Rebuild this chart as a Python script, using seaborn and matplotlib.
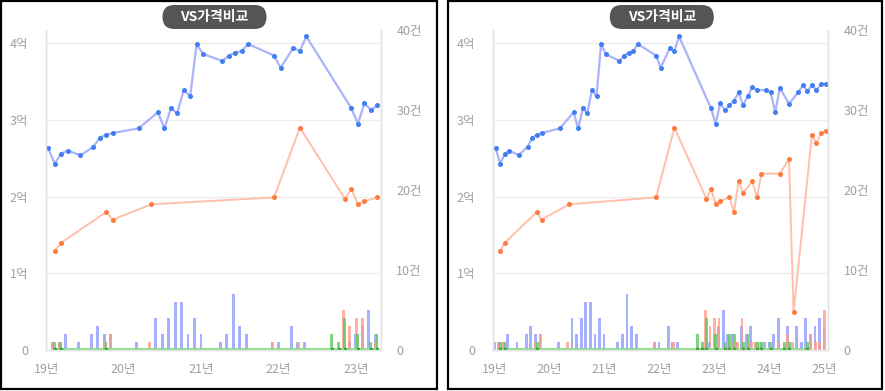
import numpy as np
import pandas as pd
import matplotlib
matplotlib.use("Agg")
import matplotlib.pyplot as plt
import seaborn as sns
from matplotlib.patches import FancyBboxPatch, Rectangle
from matplotlib.transforms import IdentityTransform

sns.set_theme(style="white")
plt.rcParams['font.family'] = ['Noto Sans CJK KR', 'DejaVu Sans']

# ---------------- data ----------------
sale_months = ['2019-01', '2019-02', '2019-03', '2019-04', '2019-06', '2019-08', '2019-09', '2019-10', '2019-11',
               '2020-03', '2020-06', '2020-07', '2020-08', '2020-09', '2020-10', '2020-11', '2020-12',
               '2021-01', '2021-04', '2021-05', '2021-06', '2021-07', '2021-08', '2021-12',
               '2022-01', '2022-03', '2022-04', '2022-05', '2022-12',
               '2023-01', '2023-02', '2023-03', '2023-04', '2023-05', '2023-06', '2023-07', '2023-08', '2023-09',
               '2023-10', '2023-12',
               '2024-01', '2024-02', '2024-03', '2024-05', '2024-07', '2024-08', '2024-09', '2024-10', '2024-11',
               '2024-12', '2025-01']
sale_price = [2.63, 2.43, 2.56, 2.60, 2.54, 2.65, 2.77, 2.81, 2.83,
              2.89, 3.10, 2.89, 3.15, 3.09, 3.39, 3.31, 3.99,
              3.86, 3.77, 3.84, 3.88, 3.90, 3.99, 3.84,
              3.68, 3.94, 3.90, 4.09, 3.15,
              2.95, 3.22, 3.13, 3.19, 3.25, 3.36, 3.19, 3.31, 3.43,
              3.39, 3.39,
              3.36, 3.10, 3.42, 3.21, 3.36, 3.45, 3.38, 3.45, 3.39,
              3.47, 3.47]
sale_count = [1, 1, 1, 2, 1, 2, 3, 2, 2,
              1, 4, 2, 4, 6, 6, 2, 4,
              2, 1, 2, 7, 3, 2, 1,
              1, 3, 1, 1, 1,
              2, 3, 5, 2, 2, 1, 3, 2, 3,
              1, 1,
              1, 2, 4, 3, 3, 1, 4, 2, 3,
              4, 3]

jeonse_months = ['2019-02', '2019-03', '2019-10', '2019-11', '2020-05', '2021-12', '2022-04',
                 '2022-11', '2022-12', '2023-01', '2023-02', '2023-04', '2023-05', '2023-06', '2023-07',
                 '2023-09', '2023-10', '2023-11', '2024-03', '2024-05', '2024-06', '2024-10', '2024-11',
                 '2024-12', '2025-01']
jeonse_price = [1.29, 1.40, 1.80, 1.70, 1.90, 1.99, 2.90,
                1.97, 2.10, 1.90, 1.94, 1.99, 1.80, 2.20, 2.05,
                2.20, 1.99, 2.30, 2.30, 2.49, 0.49, 2.80, 2.70,
                2.83, 2.86]
jeonse_count = [1, 1, 1, 2, 1, 1, 1,
                5, 3, 4, 4, 1, 1, 1, 4,
                1, 1, 1, 1, 2, 1, 2, 1,
                1, 5]

wolse_months = ['2019-02', '2019-03', '2019-10', '2022-09', '2022-10', '2022-11', '2023-01', '2023-03',
                '2023-04', '2023-05', '2023-07', '2023-08', '2023-10', '2023-11', '2024-01', '2024-04',
                '2024-05', '2024-09']
wolse_price = [0.01, 0.01, 0.01, 0.01, 0.01, 0.01, 0.01, 0.01,
               0.01, 0.01, 0.01, 0.01, 0.01, 0.01, 0.01, 0.01,
               0.01, 0.01]
wolse_count = [1, 1, 1, 2, 1, 4, 2, 1,
               2, 2, 1, 2, 1, 1, 1, 1,
               1, 1]

year_labels = ['19년', '20년', '21년', '22년', '23년', '24년', '25년']
left_ticks = [0, 1, 2, 3, 4]
left_labels = ['0', '1억', '2억', '3억', '4억']
right_ticks = [0, 10, 20, 30, 40]
right_labels = ['0', '10건', '20건', '30건', '40건']
title_text = 'VS가격비교'


def month_index(months):
    d = pd.to_datetime(pd.Series(months), format='%Y-%m')
    return ((d.dt.year - 2019) * 12 + d.dt.month - 1).to_numpy(dtype=float)


sale_df = pd.DataFrame({'m': month_index(sale_months), 'price': sale_price, 'cnt': sale_count})
jeonse_df = pd.DataFrame({'m': month_index(jeonse_months), 'price': jeonse_price, 'cnt': jeonse_count})
wolse_df = pd.DataFrame({'m': month_index(wolse_months), 'price': wolse_price, 'cnt': wolse_count})

# ---------------- layout ----------------
W, H = 885, 391
DPI = 100
fig = plt.figure(figsize=(W / DPI, H / DPI), dpi=DPI)
fig.patch.set_facecolor('white')

GRAY = '#a0a0a0'
GRID = '#ededed'
EDGE = '#e4e4e4'

C_SALE_LINE, C_SALE_MK, C_SALE_BAR = '#aab3fb', '#3f7ff0', '#8d9afc'
C_JS_LINE, C_JS_MK, C_JS_BAR = '#ffc0ab', '#ff7a3d', '#ff9c8a'
C_WS_LINE, C_WS_MK, C_WS_BAR = '#86de86', '#2e9e2e', '#5cc85c'


def draw_panel(box, plot, x0_px, px_per_month, last_m, n_years):
    bx0, by0, bx1, by1 = box
    px0, py0, px1, py1 = plot
    # outer black frame
    fig.patches.append(Rectangle((bx0, H - by1), bx1 - bx0, by1 - by0, transform=IdentityTransform(),
                                 fill=False, ec='black', lw=1.6, zorder=10))
    rect = [px0 / W, 1 - py1 / H, (px1 - px0) / W, (py1 - py0) / H]
    ax = fig.add_axes(rect)
    ax2 = ax.twinx()
    ax.set_zorder(3)
    ax2.set_zorder(2)
    ax.patch.set_visible(False)

    xmin = (px0 - x0_px) / px_per_month
    xmax = (px1 - x0_px) / px_per_month
    line_off = 0.3

    s = sale_df[sale_df.m <= last_m]
    j = jeonse_df[jeonse_df.m <= last_m]
    w = wolse_df[wolse_df.m <= last_m]

    # bars (counts)
    bw = 2.8 / px_per_month
    ax2.bar(s.m - 0.2 / px_per_month, s.cnt, width=bw, color=C_SALE_BAR, alpha=0.78, lw=0)
    ax2.bar(j.m + 0.2 / px_per_month, j.cnt, width=bw, color=C_JS_BAR, alpha=0.78, lw=0)
    ax2.bar(w.m + 1.6 / px_per_month, w.cnt, width=bw, color=C_WS_BAR, alpha=0.78, lw=0)
    ax2.set_ylim(0, 40)
    ax2.set_yticks(right_ticks)
    ax2.set_yticklabels(right_labels)

    # lines (prices)
    sns.lineplot(x=s.m + line_off, y=s.price, ax=ax, color=C_SALE_LINE, lw=1.6, marker='o',
                 markersize=3.6, markerfacecolor=C_SALE_MK, markeredgewidth=0, sort=False)
    sns.lineplot(x=j.m + line_off, y=j.price, ax=ax, color=C_JS_LINE, lw=1.4, marker='o',
                 markersize=3.6, markerfacecolor=C_JS_MK, markeredgewidth=0, sort=False)
    sns.lineplot(x=w.m + line_off, y=w.price, ax=ax, color=C_WS_LINE, lw=1.3, marker='o',
                 markersize=2.6, markerfacecolor=C_WS_MK, markeredgewidth=0, sort=False)

    ax.set_xlim(xmin, xmax)
    ax.set_ylim(0, (py1 - py0) / ((350 - 43.3) / 4))
    ax.set_yticks(left_ticks)
    ax.set_yticklabels(left_labels)
    ax.set_xticks([12 * i for i in range(n_years)])
    ax.set_xticklabels(year_labels[:n_years])
    ax.set_xlabel('')
    ax.set_ylabel('')
    ax2.set_ylabel('')

    ax.yaxis.grid(True, color=GRID, lw=1)
    ax.xaxis.grid(False)
    ax2.grid(False)
    for a in (ax, ax2):
        a.spines['top'].set_visible(False)
        for sp in ('left', 'right', 'bottom'):
            a.spines[sp].set_color(EDGE)
            a.spines[sp].set_linewidth(1)
    ax.tick_params(axis='y', length=0, pad=13, labelsize=9, labelcolor=GRAY)
    ax2.tick_params(axis='y', length=0, pad=11, labelsize=9, labelcolor=GRAY)
    ax.tick_params(axis='x', length=0, pad=9, labelsize=9, labelcolor=GRAY)

    # title pill
    cx = (px0 + px1) / 2 + 1
    pw, ph = 104, 24
    fig.patches.append(FancyBboxPatch((cx - pw / 2, H - 29), pw, ph,
                                      boxstyle='round,pad=0,rounding_size=12',
                                      transform=IdentityTransform(), fc='#555555', ec='none', zorder=20))
    fig.text(cx / W, 1 - 17.5 / H, title_text, ha='center', va='center', color='white',
             fontsize=10, fontweight='bold', zorder=21)


draw_panel(box=(1, 1, 437, 389), plot=(46, 30, 381, 350), x0_px=46.3, px_per_month=6.452,
           last_m=51, n_years=5)
draw_panel(box=(447.5, 1, 882, 389), plot=(493.3, 30, 828.3, 350), x0_px=494.3, px_per_month=4.583,
           last_m=72, n_years=7)

fig.savefig('out.png', dpi=DPI, facecolor='white')
